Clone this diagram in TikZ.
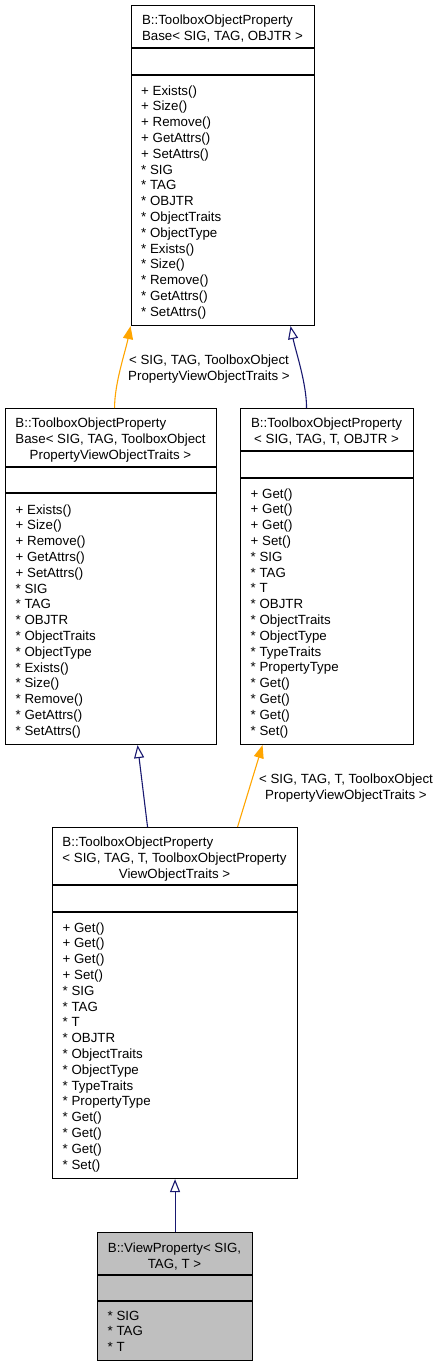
\documentclass[tikz,border=0pt]{standalone}
\usepackage{fontspec}
\setmainfont{Liberation Sans}
\usetikzlibrary{arrows.meta}
\definecolor{navy}{HTML}{191970}
\definecolor{orng}{HTML}{FFA500}
\definecolor{greyfill}{HTML}{BFBFBF}
\newcommand\dfont{\fontsize{13.3}{15.8}\selectfont}
\newcommand\mylistAB{+ Exists()\\{}+ Size()\\{}+ Remove()\\{}+ GetAttrs()\\{}+ SetAttrs()\\{}* SIG\\{}* TAG\\{}* OBJTR\\{}* ObjectTraits\\{}* ObjectType\\{}* Exists()\\{}* Size()\\{}* Remove()\\{}* GetAttrs()\\{}* SetAttrs()}
\newcommand\mylistCD{+ Get()\\{}+ Get()\\{}+ Get()\\{}+ Set()\\{}* SIG\\{}* TAG\\{}* T\\{}* OBJTR\\{}* ObjectTraits\\{}* ObjectType\\{}* TypeTraits\\{}* PropertyType\\{}* Get()\\{}* Get()\\{}* Get()\\{}* Set()}
\newcommand\mylines[1]{\begin{tabular}[t]{@{}l@{}}#1\end{tabular}}
\newcommand\mycent[1]{\multicolumn{1}{@{}c@{}}{#1}}
\begin{document}
\begin{tikzpicture}[x=1pt,y=-1pt,
 umlbox/.style={draw=black, line width=1.1pt, fill=white, rectangle, inner sep=0pt, anchor=north west},
 ttl/.style={inner sep=0pt, anchor=base, font=\dfont},
 items/.style={inner sep=0pt, anchor=base west, font=\dfont},
 inh/.style={draw=navy, line width=1.1pt, -{Triangle[open, length=13pt, width=10pt, fill=white]}},
 tpl/.style={draw=orng, line width=1.1pt, -{Triangle[length=13pt, width=10pt, fill=orng]}},
 elabel/.style={inner sep=0pt, anchor=base, font=\dfont},
 divider/.style={draw=black, line width=1.1pt}]
\useasboundingbox (0,0) rectangle (439,1368);

% Box A
\node[umlbox, minimum width=183pt, minimum height=320pt] (A) at (131,5) {};
\draw[divider] ([yshift=-43pt]A.north west) -- ([yshift=-43pt]A.north east);
\draw[divider] ([yshift=-70pt]A.north west) -- ([yshift=-70pt]A.north east);
\node[ttl] (At) at (222.5,24.5) {\mylines{B::ToolboxObjectProperty\\\mycent{Base< SIG, TAG, OBJTR >}}};
\node[items] (Ai) at (141,95) {\mylines{\mylistAB}};

% Box B
\node[umlbox, minimum width=211pt, minimum height=336pt] (B) at (5,408) {};
\draw[divider] ([yshift=-59pt]B.north west) -- ([yshift=-59pt]B.north east);
\draw[divider] ([yshift=-85pt]B.north west) -- ([yshift=-85pt]B.north east);
\node[ttl] (Bt) at (110.5,427.5) {\mylines{B::ToolboxObjectProperty\\Base< SIG, TAG, ToolboxObject\\\mycent{PropertyViewObjectTraits >}}};
\node[items] (Bi) at (15.5,514) {\mylines{\mylistAB}};

% Box C
\node[umlbox, minimum width=173pt, minimum height=336pt] (C) at (240,408) {};
\draw[divider] ([yshift=-43pt]C.north west) -- ([yshift=-43pt]C.north east);
\draw[divider] ([yshift=-70pt]C.north west) -- ([yshift=-70pt]C.north east);
\node[ttl] (Ct) at (326.5,427.5) {\mylines{B::ToolboxObjectProperty\\\mycent{< SIG, TAG, T, OBJTR >}}};
\node[items] (Ci) at (250.5,498) {\mylines{\mylistCD}};

% Box D
\node[umlbox, minimum width=245pt, minimum height=351pt] (D) at (52,827) {};
\draw[divider] ([yshift=-58pt]D.north west) -- ([yshift=-58pt]D.north east);
\draw[divider] ([yshift=-85pt]D.north west) -- ([yshift=-85pt]D.north east);
\node[ttl] (Dt) at (174.5,846.5) {\mylines{B::ToolboxObjectProperty\\< SIG, TAG, T, ToolboxObjectProperty\\\mycent{ViewObjectTraits >}}};
\node[items] (Di) at (62.5,932) {\mylines{\mylistCD}};

% Box E
\node[umlbox, fill=greyfill, minimum width=155pt, minimum height=128pt] (E) at (97,1232) {};
\draw[divider] ([yshift=-43pt]E.north west) -- ([yshift=-43pt]E.north east);
\draw[divider] ([yshift=-69pt]E.north west) -- ([yshift=-69pt]E.north east);
\node[ttl] (Et) at (174.5,1252.5) {\mylines{B::ViewProperty< SIG,\\\mycent{TAG, T >}}};
\node[items] (Ei) at (107.5,1320) {\mylines{* SIG\\{}* TAG\\{}* T}};

% Edges
\draw[tpl] ([xshift=3.5pt]B.north) .. controls +(0,-25) and +(-5,25) .. ([xshift=-92.5pt]A.south);
\node[elabel] (L1) at (209,364.5) {\begin{tabular}[t]{@{}c@{}}< SIG, TAG, ToolboxObject\\PropertyViewObjectTraits >\end{tabular}};
\draw[inh] ([xshift=-20.5pt]C.north) .. controls +(0,-25) and +(5,25) .. ([xshift=67.5pt]A.south);
\draw[inh] ([xshift=-27.5pt]D.north) -- ([xshift=26.5pt]B.south);
\draw[tpl] ([xshift=62.5pt]D.north) -- ([xshift=-64.5pt]C.south);
\node[elabel] (L2) at (346,783.5) {\begin{tabular}[t]{@{}c@{}}< SIG, TAG, T, ToolboxObject\\PropertyViewObjectTraits >\end{tabular}};
\draw[inh] (E.north) -- (D.south);
\end{tikzpicture}
\end{document}
